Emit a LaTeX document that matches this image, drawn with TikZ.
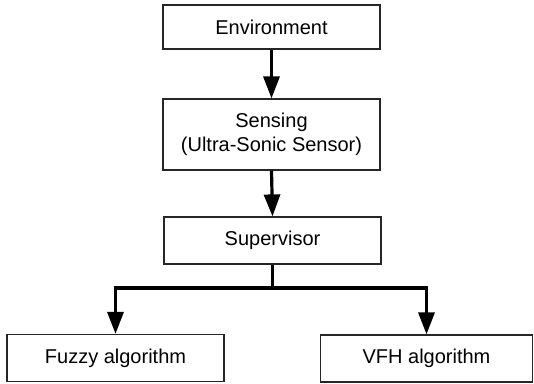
\documentclass[tikz,border=0pt]{standalone}
\usepackage{fontspec}
\setmainfont{Liberation Sans}
\usetikzlibrary{arrows.meta}
\begin{document}
\begin{tikzpicture}[x=1bp,y=-1bp,
  box/.style={draw=black!85, line width=1.2bp, inner sep=0pt, align=center,
    font=\fontsize{20bp}{24bp}\selectfont},
  conn/.style={line width=3.2bp, -{Triangle[width=16bp,length=22bp]}}]
\useasboundingbox (0,0) rectangle (534,383);
\node[box, minimum width=217bp, minimum height=44bp] (env) at (271.5,27) {Environment};
\node[box, minimum width=217bp, minimum height=71bp] (sens) at (271.5,134.5) {Sensing\\(Ultra-Sonic Sensor)};
\node[box, minimum width=217bp, minimum height=47bp] (sup) at (272.5,240.5) {Supervisor};
\node[box, minimum width=217bp, minimum height=47bp] (fuzzy) at (115.5,358) {Fuzzy algorithm};
\node[box, minimum width=212bp, minimum height=47bp] (vfh) at (426.5,358.5) {VFH algorithm};
\coordinate (junc) at (sup.south |- 0,288);
\draw[conn] (env.south) -- (sens.north);
\draw[conn] (sens.south) -- (sup.north);
\draw[line width=3.2bp] (sup.south) -- (junc);
\draw[conn] (junc) -| (fuzzy.north);
\draw[conn] (junc) -| (vfh.north);
\end{tikzpicture}
\end{document}
